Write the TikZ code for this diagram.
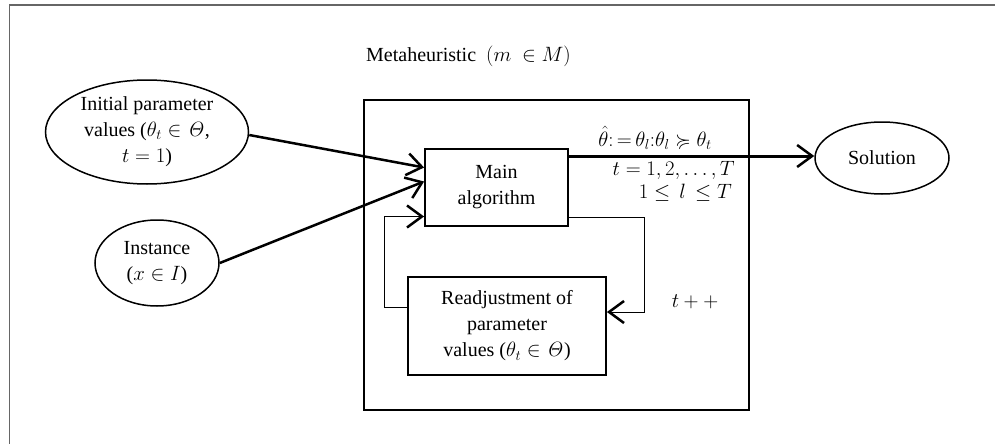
\documentclass[tikz,border=0pt]{standalone}
\usepackage{amssymb}
\usepackage[no-math]{fontspec}
\setmainfont{Liberation Serif}
\usepackage{tikz}
\usetikzlibrary{
  shapes.geometric,
  arrows.meta,
  positioning,
  calc
}

\begin{document}
\begin{tikzpicture}[
  x=1pt, y=-1pt,
  txt/.style={font=\fontsize{20}{26}\selectfont, align=center},
  lbl/.style={txt, inner sep=1pt},
  block/.style={txt, rectangle, draw, line width=1.8pt, inner sep=0pt},
  oval/.style={txt, ellipse, draw, line width=1.5pt, inner sep=0pt},
  feed/.style={-{Straight Barb[length=15pt, width=22pt, line width=2.5pt]}, line width=2.5pt},
  back/.style={-{Straight Barb[length=15pt, width=22pt, line width=2.5pt]}, line width=1pt}
]
  \useasboundingbox (0,0) rectangle (995,444);
  \draw[gray!80!black, line width=1.5pt] (9.5,444) -- (9.5,5) -- (995,5);

  \node[lbl, anchor=west] (title) at (365,56) {Metaheuristic\ \ $(m\ \in M)$};
  \node[draw, line width=1.1pt, minimum width=385pt, minimum height=310pt] (meta) at (556.5,255) {};

  \node[oval, minimum width=203pt, minimum height=104pt, inner xsep=-6pt, inner ysep=-3pt] (init) at (147,132)
    {Initial parameter\\values ($\theta_t \in \mathit{\Theta}$,\\$t = 1$)};
  \node[oval, minimum width=124pt, minimum height=86pt] (inst) at (157,263) {Instance\\($x \in I$)};
  \node[block, minimum width=143pt, minimum height=77pt] (main) at (496.5,187.5) {Main\\algorithm};
  \node[block, minimum width=198pt, minimum height=98pt] (readj) at (507,326)
    {Readjustment of\\parameter\\values ($\theta_t \in \mathit{\Theta}$)};
  \node[oval, minimum width=134pt, minimum height=72pt] (sol) at (882,158) {Solution};

  \node[lbl] (best) at (655,138) {$\hat{\theta}{:}\,{=}\,\theta_l{:}\theta_l \succcurlyeq \theta_t$};
  \node[lbl, anchor=east] (iter) at (736,170) {$t = 1, 2, \ldots, T$};
  \node[lbl, anchor=east] (range) at (733,193) {$1 \leq\, l\, \leq T$};
  \node[lbl] (incr) at (695,302) {$t + +$};

  \draw[feed] ([yshift=-3pt]init.east) -- ([yshift=20pt]main.west);
  \draw[feed] (inst.east) -- ([yshift=6pt]main.west);
  \draw[back] ([yshift=19pt]readj.west) -- ++(-23,0) |- ([yshift=-29pt]main.west);
  \draw[back] ([yshift=-30pt]main.east) -- ++(76,0) |- ([yshift=14pt]readj.east);
  \draw[feed, line width=3pt] ([yshift=31.5pt]main.east) -- ([yshift=31.5pt]main.east -| sol.west);
\end{tikzpicture}
\end{document}
